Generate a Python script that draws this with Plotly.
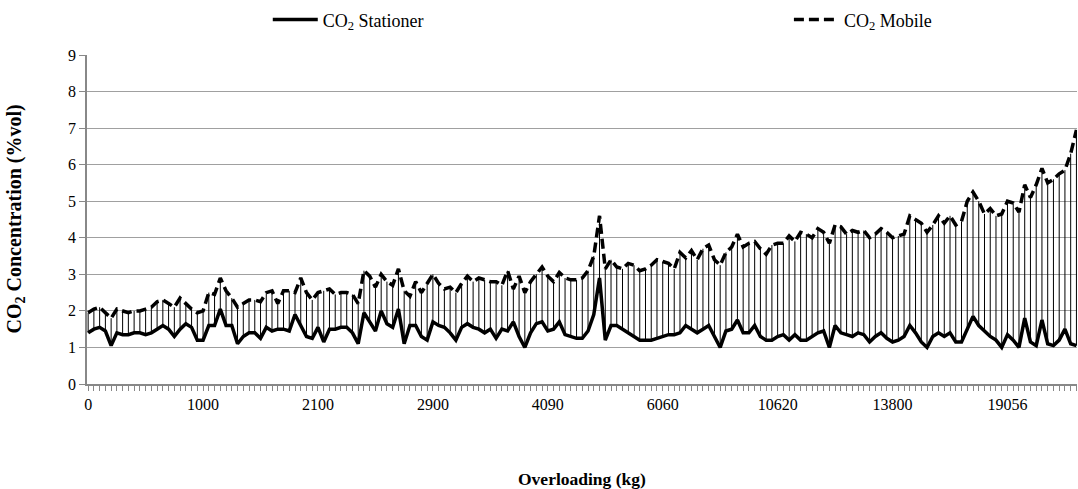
import plotly.graph_objects as go

# Tick labels (overloading, kg) shown every 20 categories
tick_labels = ["0", "1000", "2100", "2900", "4090", "6060", "10620", "13800", "19056"]
label_step = 20

co2_mobile = [
    1.95, 2.05, 2.1, 1.95, 1.8, 2.05, 2.0, 1.95, 2.0, 2.0,
    2.05, 2.1, 2.25, 2.3, 2.2, 2.1, 2.35, 2.2, 2.05, 1.95,
    2.0, 2.5, 2.45, 2.9, 2.55, 2.35, 2.1, 2.2, 2.3, 2.3,
    2.25, 2.5, 2.55, 2.2, 2.55, 2.55, 2.5, 2.9, 2.5, 2.3,
    2.5, 2.55, 2.6, 2.45, 2.5, 2.5,
    2.45, 2.2, 3.1, 2.95, 2.65, 3.0, 2.8, 2.7, 3.15, 2.55,
    2.4, 2.8, 2.5, 2.75, 3.0, 2.75, 2.6, 2.65, 2.5, 2.75,
    2.95, 2.8, 2.9, 2.85, 2.8, 2.8, 2.7, 3.1, 2.6, 2.95,
    2.5, 2.8, 3.0, 3.2, 2.95,
    2.8, 3.05, 2.9, 2.85, 2.85, 2.9, 3.1, 3.5, 4.6, 3.15,
    3.4, 3.2, 3.15, 3.3, 3.25,
    3.1, 3.15, 3.25, 3.4, 3.35, 3.3, 3.15, 3.6, 3.45, 3.65,
    3.4,
    3.7, 3.8, 3.4, 3.25, 3.6, 3.75, 4.1, 3.75, 3.85, 3.9,
    3.7, 3.55, 3.8, 3.85, 3.85, 4.05, 3.9, 4.15, 4.1, 4.0,
    4.25, 4.15, 3.85, 4.35, 4.3, 4.1, 4.2, 4.15, 4.2, 4.0,
    4.1, 4.25, 4.15, 4.0, 4.05, 4.1, 4.6, 4.5,
    4.4, 4.15, 4.35, 4.6, 4.4, 4.6, 4.35, 4.45, 5.0, 5.25,
    5.0, 4.65, 4.8, 4.6, 4.65, 5.0, 4.95,
    4.7, 5.45, 5.1, 5.45, 5.9, 5.5, 5.6, 5.75, 5.85, 6.3, 6.95,
]

co2_stationer = [
    1.4, 1.5, 1.55, 1.45, 1.05, 1.4, 1.35, 1.35, 1.4, 1.4,
    1.35, 1.4, 1.5, 1.6, 1.5, 1.3, 1.5, 1.65, 1.55, 1.2,
    1.2, 1.6, 1.6, 2.05, 1.6, 1.6, 1.1, 1.3, 1.4, 1.4,
    1.25, 1.55, 1.45, 1.5, 1.5, 1.45, 1.9, 1.6, 1.3, 1.25,
    1.55, 1.15, 1.5, 1.5, 1.55, 1.55,
    1.4, 1.1, 1.95, 1.7, 1.45, 2.0, 1.65, 1.55, 2.05, 1.1,
    1.6, 1.6, 1.3, 1.2, 1.7, 1.6, 1.55, 1.4, 1.2, 1.55,
    1.65, 1.55, 1.5, 1.4, 1.5, 1.25, 1.5, 1.45, 1.7, 1.3,
    1.0, 1.4, 1.65, 1.7, 1.45,
    1.5, 1.7, 1.35, 1.3, 1.25, 1.25, 1.45, 1.9, 2.9, 1.2,
    1.6, 1.6, 1.5, 1.4, 1.3,
    1.2, 1.2, 1.2, 1.25, 1.3, 1.35, 1.35, 1.4, 1.6, 1.5,
    1.4,
    1.5, 1.6, 1.3, 1.0, 1.45, 1.5, 1.75, 1.4, 1.4, 1.6,
    1.3, 1.2, 1.2, 1.3, 1.35, 1.2, 1.35, 1.2, 1.2, 1.3,
    1.4, 1.45, 1.0, 1.6, 1.4, 1.35, 1.3, 1.4, 1.35, 1.15,
    1.3, 1.4, 1.25, 1.15, 1.2, 1.3, 1.6, 1.4,
    1.15, 1.0, 1.3, 1.4, 1.3, 1.4, 1.15, 1.15, 1.5, 1.85,
    1.6, 1.45, 1.3, 1.2, 1.0, 1.35, 1.2,
    1.0, 1.8, 1.15, 1.05, 1.75, 1.1, 1.05, 1.2, 1.5, 1.1, 1.05,
]

n = len(co2_mobile)
xs = list(range(n))

# high-low lines connecting the two series at each category
hl_x, hl_y = [], []
for i in xs:
    hl_x += [i, i, None]
    hl_y += [co2_stationer[i], co2_mobile[i], None]

FONT = "Liberation Serif, Times New Roman, serif"
GRID = "#a0a0a0"
AXIS = "#888888"

fig = go.Figure()
fig.add_trace(go.Scatter(x=hl_x, y=hl_y, mode="lines", line=dict(color="black", width=1),
                         showlegend=False, hoverinfo="skip"))
fig.add_trace(go.Scatter(x=xs, y=co2_stationer, mode="lines", name="CO<sub>2</sub> Stationer",
                         line=dict(color="black", width=3.5), legend="legend"))
fig.add_trace(go.Scatter(x=xs, y=co2_mobile, mode="lines", name="CO<sub>2</sub> Mobile",
                         line=dict(color="black", width=3.5, dash="10px,5px"), legend="legend2"))

label_pos = [k * label_step for k in range(len(tick_labels))]

leg_common = dict(orientation="h", yanchor="middle", y=1.107, xanchor="left",
                  font=dict(size=18, family=FONT), itemwidth=45, bgcolor="rgba(0,0,0,0)")

fig.update_layout(
    width=1078, height=489,
    margin=dict(l=87, r=1, t=49, b=105),
    paper_bgcolor="white", plot_bgcolor="white",
    font=dict(family=FONT, size=16, color="black"),
    showlegend=True,
    legend=dict(x=0.1826, **leg_common),
    legend2=dict(x=0.709, **leg_common),
    xaxis=dict(range=[-0.2, n - 0.9], tickmode="array", tickvals=label_pos, ticktext=tick_labels,
               ticks="outside", ticklen=5, tickcolor=AXIS, tickwidth=1,
               minor=dict(tickmode="linear", tick0=0, dtick=1, ticks="outside", ticklen=5,
                          tickcolor=AXIS, tickwidth=1, showgrid=False),
               showline=True, linecolor=AXIS, linewidth=1.5, showgrid=False, zeroline=False,
               tickfont=dict(size=16, family=FONT)),
    yaxis=dict(range=[0, 9], dtick=1, tick0=0, ticks="outside", ticklen=6, tickcolor=AXIS,
               showline=True, linecolor=AXIS, linewidth=1.5, showgrid=True, gridcolor=GRID,
               gridwidth=1, zeroline=False, tickfont=dict(size=16, family=FONT)),
    annotations=[
        dict(text="<b>Overloading (kg)</b>", xref="paper", yref="paper", x=0.5, y=0,
             xanchor="center", yanchor="middle", yshift=-95, showarrow=False,
             font=dict(size=17.5, family=FONT)),
        dict(text="<b>CO<sub>2</sub> Concentration (%vol)</b>", xref="paper", yref="paper",
             x=0, y=0.5, xanchor="center", yanchor="middle", xshift=-72, textangle=-90,
             showarrow=False, font=dict(size=20, family=FONT)),
    ],
)

fig.write_html("out.html")
